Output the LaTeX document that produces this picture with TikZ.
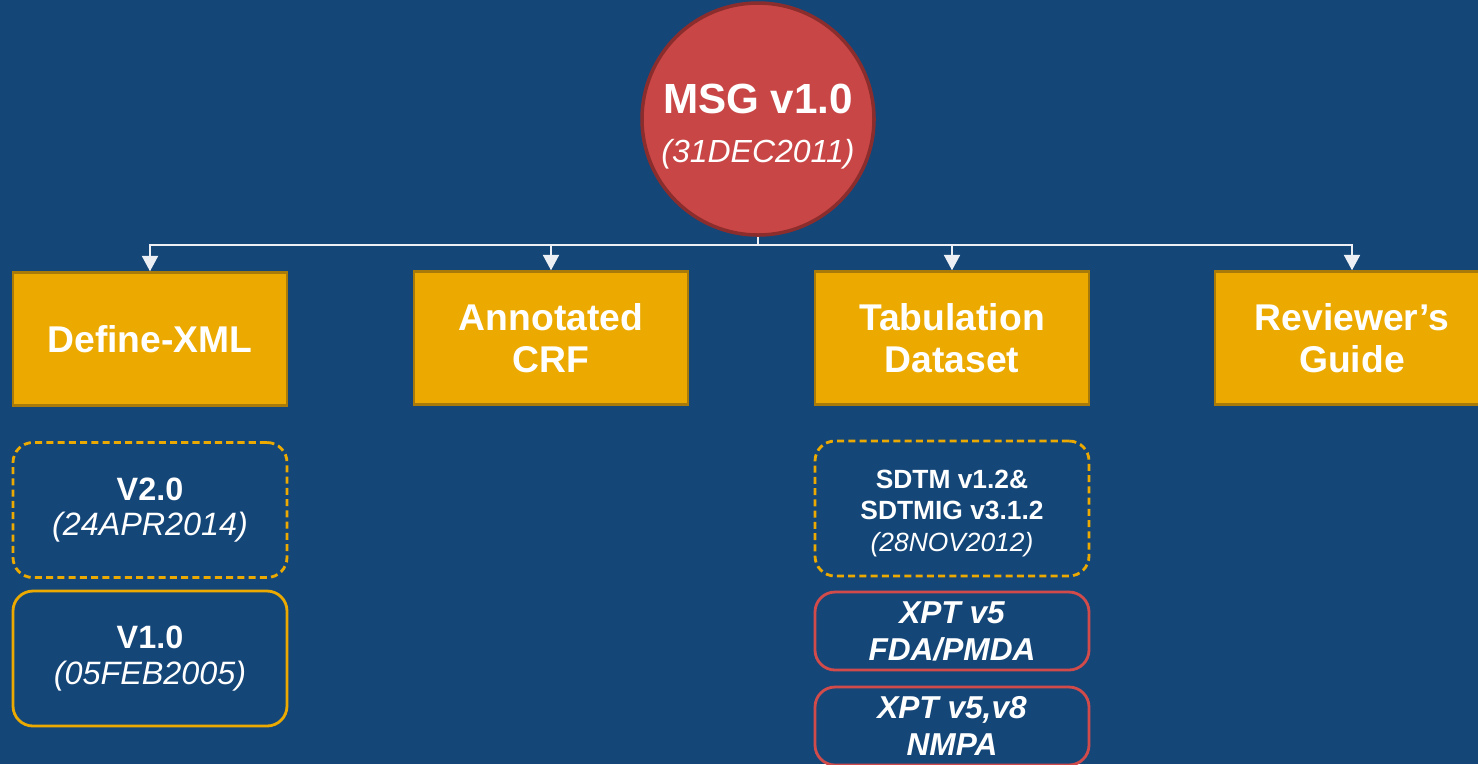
\documentclass[tikz,border=0pt]{standalone}
\usepackage{xcolor}
\usepackage{fontspec}
\setmainfont{Liberation Sans}
\usepackage{tikz}
\usetikzlibrary{arrows.meta}
\definecolor{bgblue}{RGB}{20,70,120}
\definecolor{gold}{RGB}{236,170,0}
\definecolor{goldline}{RGB}{168,122,10}
\definecolor{msgred}{RGB}{201,70,70}
\definecolor{msgline}{RGB}{140,45,45}
\definecolor{xptred}{RGB}{210,75,75}

\begin{document}
\begin{tikzpicture}[
    txt/.style={text=white,align=center,inner sep=0pt},
    topbox/.style={txt,rectangle,fill=gold,draw=goldline,line width=0.7pt,
        minimum width=2.74cm,minimum height=1.33cm,font=\fontsize{10.6}{12}\selectfont\bfseries},
    verbox/.style={txt,rectangle,rounded corners=0.2cm,draw=gold,line width=0.8pt,
        minimum width=2.74cm,minimum height=1.35cm,font=\fontsize{9.2}{10.2}\selectfont},
    xptbox/.style={txt,rectangle,rounded corners=0.2cm,draw=xptred,line width=0.8pt,
        minimum width=2.74cm,minimum height=0.78cm,font=\fontsize{9}{10.5}\selectfont\bfseries\itshape},
    conn/.style={draw=white!92!bgblue,line width=0.5pt,-{Triangle[width=4.6pt,length=4.4pt]}}
    ]
        \useasboundingbox (0,0) rectangle (14.78,-7.64);
        \fill[bgblue] (0,0) rectangle (14.78,-7.64);

        \node[txt,circle,fill=msgred,draw=msgline,line width=1pt,minimum size=2.32cm] (msg) at (7.58,-1.19)
            {\rule{0pt}{12.5pt}{\fontsize{12}{11.4}\selectfont\bfseries MSG v1.0}\\[2pt]{\fontsize{9.1}{11}\selectfont\itshape (31DEC2011)}};
        \coordinate (hub) at (7.58,-2.45);

        \node[topbox] (define) at (1.50,-3.39) {Define-XML};
        \node[topbox] (annot) at (5.51,-3.38) {Annotated\\CRF};
        \node[topbox] (tab) at (9.52,-3.38) {Tabulation\\Dataset};
        \node[topbox] (guide) at (13.52,-3.38) {Reviewer’s\\Guide};

        \draw[conn] (msg.south) -- (hub) -| (define.north);
        \draw[conn] (msg.south) -- (hub) -| (annot.north);
        \draw[conn] (msg.south) -- (hub) -| (tab.north);
        \draw[conn] (msg.south) -- (hub) -| (guide.north);

        \node[verbox,dash pattern=on 2pt off 1.2pt] (v2) at (1.50,-5.10) {{\bfseries V2.0}\\{\itshape (24APR2014)}};
        \node[verbox] (v1) at (1.50,-6.585) {{\bfseries V1.0}\\{\itshape (05FEB2005)}};

        \node[verbox,dash pattern=on 2pt off 1.2pt,font=\fontsize{7.5}{8.9}\selectfont] (sdtm) at (9.52,-5.085)
            {\rule{0pt}{8pt}{\bfseries SDTM v1.2\&}\\{\bfseries SDTMIG v3.1.2}\\{\itshape (28NOV2012)}};
        \node[xptbox] (xpt5) at (9.52,-6.31) {XPT v5\\FDA/PMDA};
        \node[xptbox] (xpt8) at (9.52,-7.26) {XPT v5,v8\\NMPA};
    \end{tikzpicture}
\end{document}
